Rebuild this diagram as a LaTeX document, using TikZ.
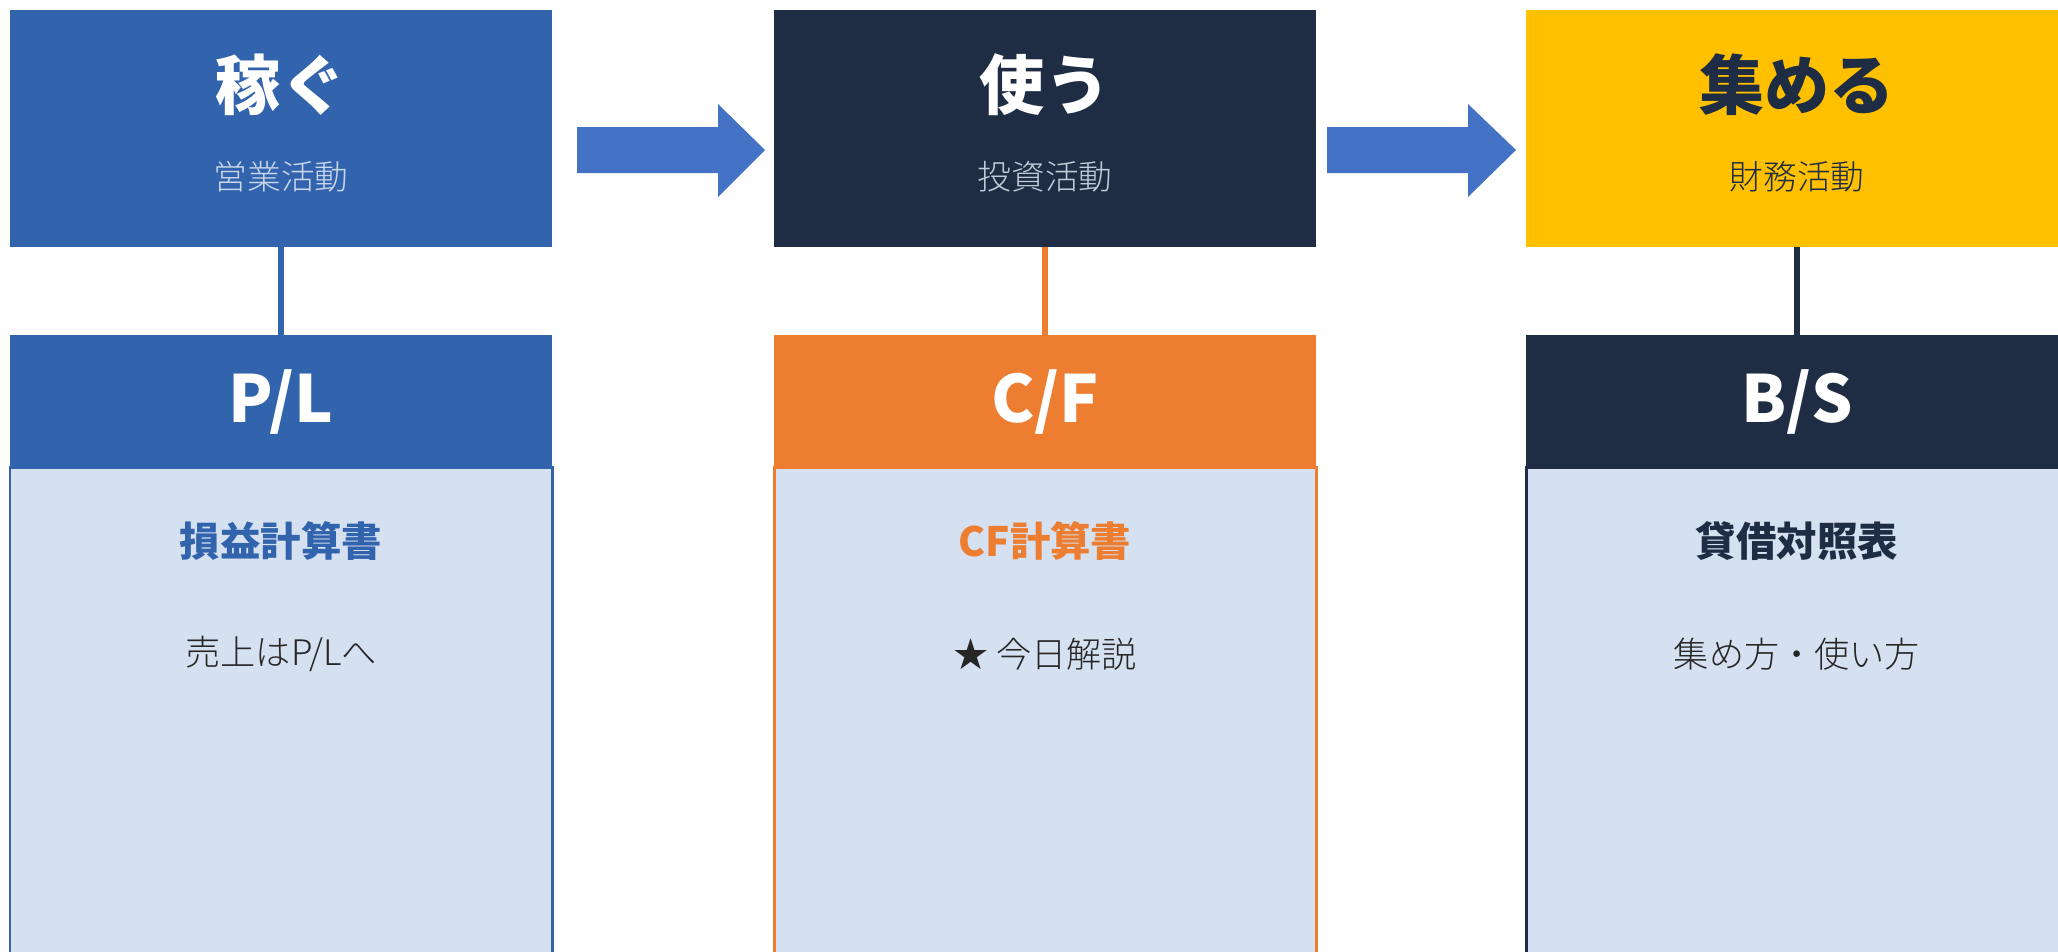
\documentclass[tikz,border=0pt]{standalone}
\usepackage{fontspec}
\setmainfont{Noto Sans CJK JP}
\newfontfamily\jplight{Noto Sans CJK JP Light}
\usetikzlibrary{positioning}
\definecolor{pl_blue}{HTML}{3263AD}
\definecolor{arrow_blue}{HTML}{4472C4}
\definecolor{cf_orange}{HTML}{ED7D31}
\definecolor{bs_navy}{HTML}{1F2D44}
\definecolor{fin_yellow}{HTML}{FFC000}
\definecolor{body_light}{HTML}{D5E0F0}
\definecolor{text_dark}{HTML}{262626}
\definecolor{sub_pale}{HTML}{C9D6EC}
\definecolor{sub_gray}{HTML}{C3CBDA}

\begin{document}
\begin{tikzpicture}[
    x=0.01cm, y=-0.01cm,
    topbox/.style={anchor=north west, minimum width=5.42cm, minimum height=2.37cm,
                   inner sep=0pt, outer sep=0pt},
    headbox/.style={anchor=north west, minimum width=5.42cm, minimum height=1.32cm,
                    inner sep=0pt, outer sep=0pt},
    bodybox/.style={anchor=north west, minimum width=5.42cm, minimum height=5.6cm,
                    inner sep=0pt, outer sep=0pt, fill=body_light, line width=0.85pt},
    link/.style={line width=1.7pt},
    bigtitle/.style={font=\bfseries\fontsize{18.5}{22}\selectfont},
    subtitle/.style={font=\jplight\fontsize{9.6}{12}\selectfont},
    headtitle/.style={font=\bfseries\fontsize{18.5}{22}\selectfont, text=white},
    bodytitle/.style={font=\bfseries\fontsize{11.5}{14}\selectfont},
    bodytext/.style={font=\jplight\fontsize{10}{12}\selectfont, text=text_dark}
]
\useasboundingbox (0,0) rectangle (2058,951);
\clip (0,0) rectangle (2058,951);

%% ---- Spalte 1: Kasegu / P/L ----
\node[topbox, fill=pl_blue] (top1) at (10,10) {};
\node[bigtitle, text=white] (title1) at (281,85) {稼ぐ};
\node[subtitle, text=sub_pale] (sub1) at (281,177) {営業活動};
\node[bodybox, draw=pl_blue] (body1) at (10,467) {};
\node[headbox, fill=pl_blue] (head1) at (10,335) {};
\node[headtitle] (htext1) at (281,402) {P/L};
\node[bodytitle, text=pl_blue] (btitle1) at (281,541) {損益計算書};
\node[bodytext] (btext1) at (281,654) {売上はP/Lへ};
\draw[link, draw=pl_blue] (top1.south) -- (head1.north);

%% ---- Spalte 2: Tsukau / C/F ----
\node[topbox, fill=bs_navy] (top2) at (774,10) {};
\node[bigtitle, text=white] (title2) at (1045,85) {使う};
\node[subtitle, text=sub_gray] (sub2) at (1045,177) {投資活動};
\node[bodybox, draw=cf_orange] (body2) at (774,467) {};
\node[headbox, fill=cf_orange] (head2) at (774,335) {};
\node[headtitle] (htext2) at (1045,402) {C/F};
\node[bodytitle, text=cf_orange] (btitle2) at (1045,541) {CF計算書};
\node[bodytext] (btext2) at (1045,654) {★ 今日解説};
\draw[link, draw=cf_orange] (top2.south) -- (head2.north);

%% ---- Spalte 3: Atsumeru / B/S ----
\node[topbox, fill=fin_yellow] (top3) at (1526,10) {};
\node[bigtitle, text=bs_navy] (title3) at (1797,85) {集める};
\node[subtitle, text=bs_navy] (sub3) at (1797,177) {財務活動};
\node[bodybox, draw=bs_navy] (body3) at (1526,467) {};
\node[headbox, fill=bs_navy] (head3) at (1526,335) {};
\node[headtitle] (htext3) at (1797,402) {B/S};
\node[bodytitle, text=bs_navy] (btitle3) at (1797,541) {貸借対照表};
\node[bodytext] (btext3) at (1797,654) {集め方・使い方};
\draw[link, draw=bs_navy] (top3.south) -- (head3.north);

%% ---- Blockpfeile zwischen den Spalten ----
\fill[fill=arrow_blue]
    (577,127) -- (718,127) -- (718,104) -- (765,150)
    -- (718,197) -- (718,173) -- (577,173) -- cycle;
\fill[fill=arrow_blue]
    (1327,127) -- (1468,127) -- (1468,104) -- (1516,150)
    -- (1468,197) -- (1468,173) -- (1327,173) -- cycle;

\end{tikzpicture}
\end{document}
